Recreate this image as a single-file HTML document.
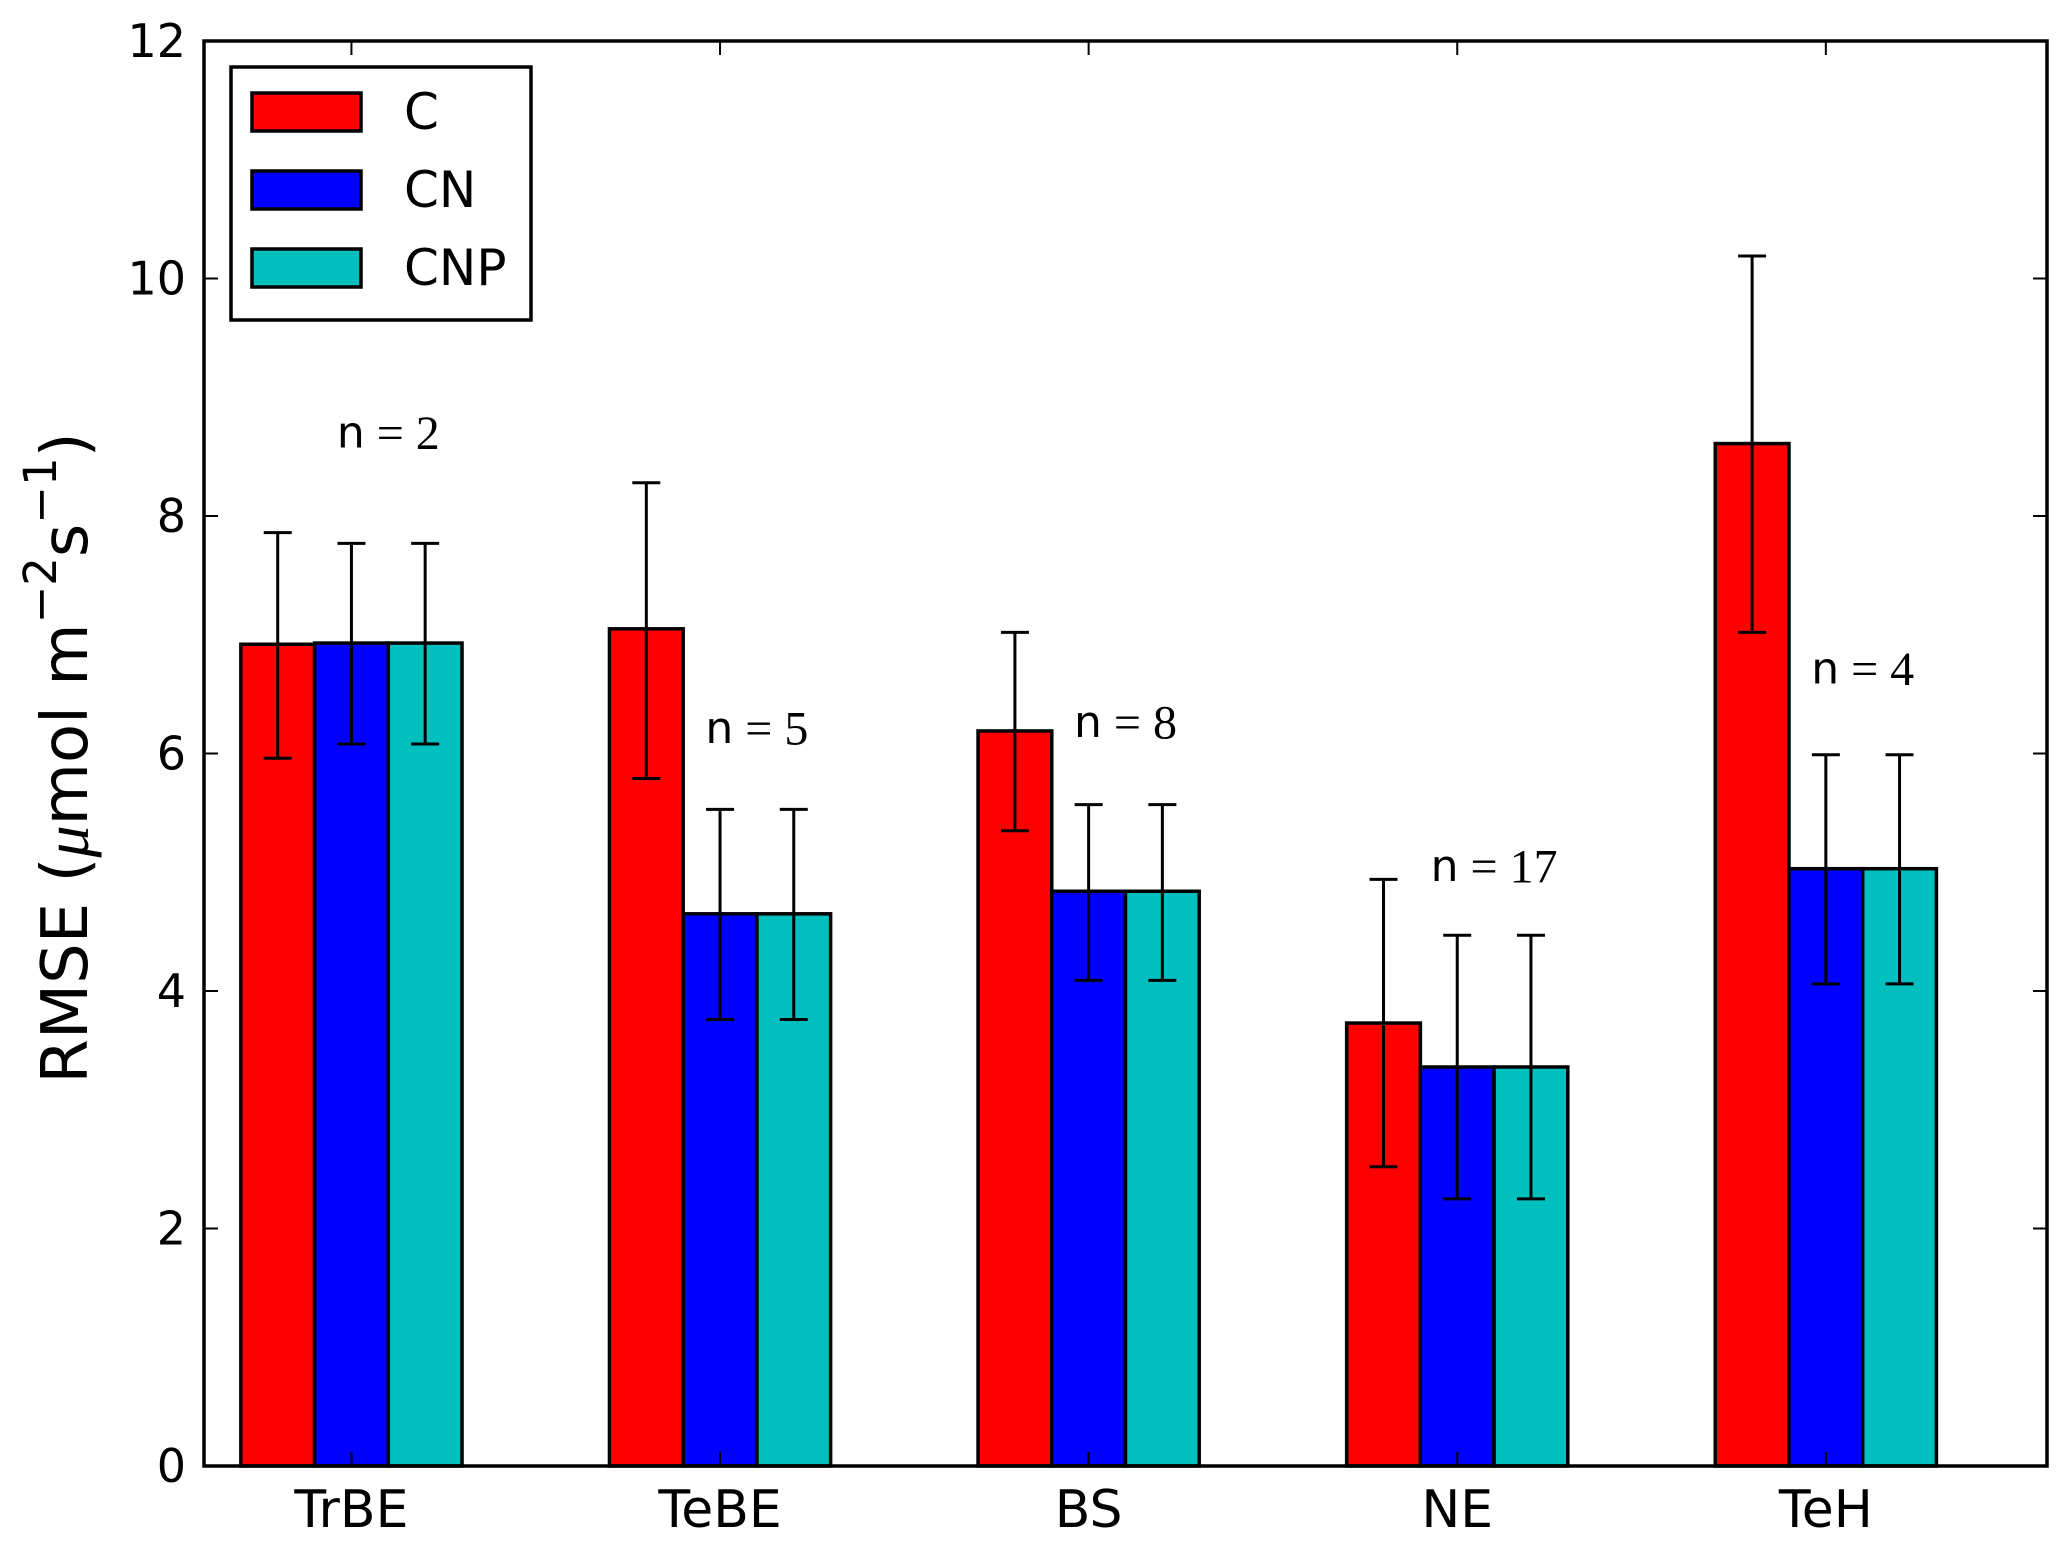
<!DOCTYPE html>
<html><head><meta charset="utf-8"><style>
html,body{margin:0;padding:0;background:#fff}
svg{display:block;font-family:"DejaVu Sans","Liberation Sans",sans-serif}
</style></head><body>
<svg id="chart" width="2067" height="1545" viewBox="0 0 2067 1545" xmlns="http://www.w3.org/2000/svg">
<g id="bars"></g>
<g id="errs"></g>
<g id="nlabels"></g>
<rect x="204" y="41" width="1843" height="1425" fill="none" stroke="#000" stroke-width="3.5"/>
<g id="yticks"></g>
<g id="xticks"></g>
<text transform="translate(66,758) rotate(-90)" text-anchor="middle" dominant-baseline="central" font-size="64">RMSE (<tspan font-family="Liberation Serif" font-style="italic">μ</tspan>mol m<tspan dy="-26" font-size="45">−2</tspan><tspan dy="26">s</tspan><tspan dy="-26" font-size="45">−1</tspan><tspan dy="26">)</tspan></text>
<g>
<rect x="231" y="67" width="300" height="253" fill="#fff" stroke="#000" stroke-width="3.5"/>
<rect x="252" y="93" width="109" height="38" fill="#ff0000" stroke="#000" stroke-width="3.5"/>
<text x="404" y="112" font-size="50" dominant-baseline="central">C</text>
<rect x="252" y="171" width="109" height="38" fill="#0000ff" stroke="#000" stroke-width="3.5"/>
<text x="404" y="190" font-size="50" dominant-baseline="central">CN</text>
<rect x="252" y="249" width="109" height="38" fill="#00bfbf" stroke="#000" stroke-width="3.5"/>
<text x="404" y="268" font-size="50" dominant-baseline="central">CNP</text>
</g>
</svg>
<script>
const categories = ["TrBE","TeBE","BS","NE","TeH"];
const seriesNames = ["C","CN","CNP"];
const valC = [6.92,7.05,6.19,3.73,8.61];
const valCN = [6.93,4.65,4.84,3.36,5.03];
const valCNP = [6.93,4.65,4.84,3.36,5.03];
const errHiC = [7.86,8.28,7.02,4.94,10.19];
const errLoC = [5.96,5.79,5.35,2.52,7.02];
const errHiCN = [7.77,5.53,5.57,4.47,5.99];
const errLoCN = [6.08,3.76,4.09,2.25,4.06];
const errHiCNP = [7.77,5.53,5.57,4.47,5.99];
const errLoCNP = [6.08,3.76,4.09,2.25,4.06];
const nLabels = ["2","5","8","17","4"];
const nLabelY = [8.7,6.21,6.26,5.05,6.71];
const yTicks = [0,2,4,6,8,10,12];

const NS="http://www.w3.org/2000/svg";
const X0=204,X1=2047,Y0=1466,Y1=41;
const xs = v => X0 + (v+0.4)/5.0*(X1-X0);
const ys = v => Y0 - v/12*(Y0-Y1);
function mk(tag, attrs, parent){const e=document.createElementNS(NS,tag);for(const k in attrs)e.setAttribute(k,attrs[k]);parent.appendChild(e);return e;}
const colors=["#ff0000","#0000ff","#00bfbf"];
const vals=[valC,valCN,valCNP], his=[errHiC,errHiCN,errHiCNP], los=[errLoC,errLoCN,errLoCNP];
const gB=document.getElementById('bars'), gE=document.getElementById('errs'), gN=document.getElementById('nlabels');
const gY=document.getElementById('yticks'), gX=document.getElementById('xticks');
categories.forEach((c,i)=>{
  vals.forEach((arr,s)=>{
    const l=xs(i-0.3+0.2*s), r=xs(i-0.1+0.2*s);
    const b=mk('rect',{x:l,y:ys(arr[i]),width:r-l,height:ys(0)-ys(arr[i]),fill:colors[s],stroke:'#000','stroke-width':3.5},gB);
    
    
    const cx=(l+r)/2;
    const e=mk('path',{d:`M${cx},${ys(his[s][i])}V${ys(los[s][i])}M${cx-14},${ys(his[s][i])}H${cx+14}M${cx-14},${ys(los[s][i])}H${cx+14}`,stroke:'#000','stroke-width':3,fill:'none'},gE);
    
    
  });
  const t=mk('text',{x:xs(i+0.1),y:ys(nLabelY[i]),'text-anchor':'middle','dominant-baseline':'central','font-size':44},gN);
  
  
  t.innerHTML='n<tspan font-family="Liberation Serif" font-size="48"> = '+nLabels[i]+'</tspan>';
  const tk=mk('path',{d:`M${xs(i)},${Y0}v-14M${xs(i)},${Y1}v14`,stroke:'#000','stroke-width':2},gX);
  
  
  const tl=mk('text',{x:xs(i),y:1527,'text-anchor':'middle','font-size':52},gX);
  
  
  tl.textContent=c;
});
yTicks.forEach(v=>{
  const tk=mk('path',{d:`M${X0},${ys(v)}h14M${X1},${ys(v)}h-14`,stroke:'#000','stroke-width':2},gY);
  
  
  const tl=mk('text',{x:186,y:ys(v),'text-anchor':'end','dominant-baseline':'central','font-size':46},gY);
  
  
  tl.textContent=v;
});
</script>
</body></html>
